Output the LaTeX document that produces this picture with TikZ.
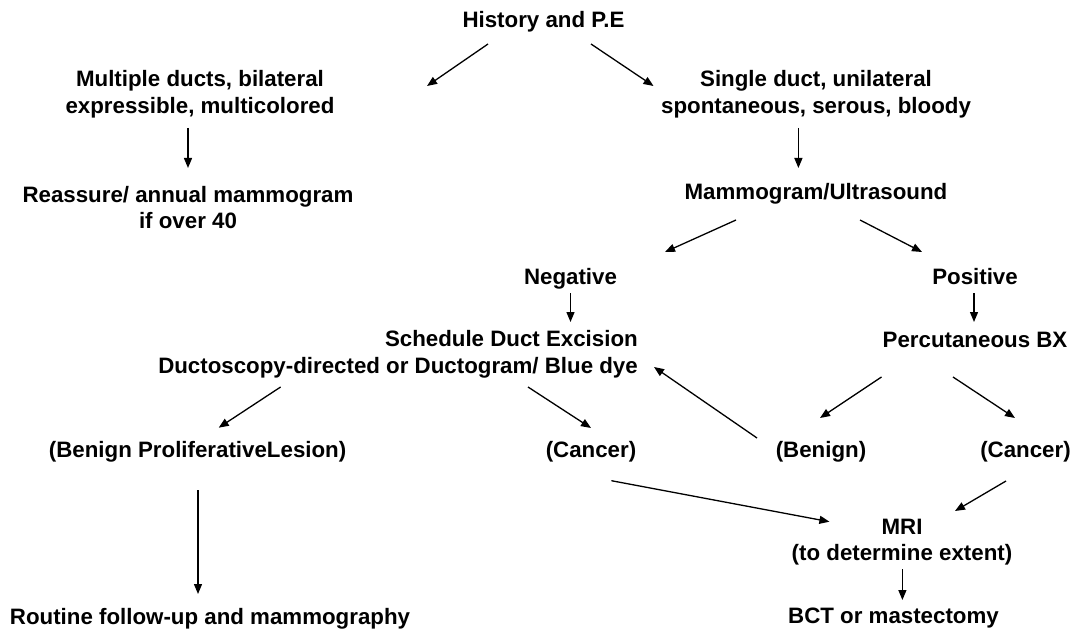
\documentclass[tikz,border=0pt]{standalone}
\usepackage{fontspec}
\setmainfont{Liberation Sans}
\usetikzlibrary{arrows.meta}
\newcommand\twol[2]{\rule{0pt}{16pt}\smash{#1}\\\smash{#2}\rule[-2pt]{0pt}{2pt}}
\tikzset{
  lbl/.style={inner sep=0pt, text height=16pt, text depth=2pt, font=\fontsize{22.3}{26.8}\selectfont\bfseries},
  lbltwo/.style={inner sep=0pt, align=center, font=\fontsize{22.3}{26.8}\selectfont\bfseries},
  arr/.style={line width=1.3pt, -{Triangle[length=10pt,width=8pt]}}
}
\begin{document}
\begin{tikzpicture}[x=1pt,y=-1pt]
\useasboundingbox (0,0) rectangle (1075,631);
\fill[white] (0,0) rectangle (1075,631);
% nodes
\node[lbl] (hist) at (543.5,21) {History and P.E};
\node[lbltwo] (multi) at (200,93.3) {\twol{Multiple ducts, bilateral}{expressible, multicolored}};
\node[lbltwo] (single) at (816,93.3) {\twol{Single duct, unilateral}{spontaneous, serous, bloody}};
\node[lbltwo] (reass) at (188,208.5) {\twol{Reassure/ annual mammogram}{if over 40}};
\node[lbl] (mamm) at (816,193) {Mammogram/Ultrasound};
\node[lbl] (neg) at (570.5,277) {Negative};
\node[lbl] (pos) at (975,277) {Positive};
\node[lbltwo, align=right, anchor=east] (sched) at (638,353.3) {\twol{Schedule Duct Excision}{Ductoscopy-directed or Ductogram/ Blue dye}};
\node[lbl] (percut) at (975,340) {Percutaneous BX};
\node[lbl] (bpl) at (197.6,450) {(Benign ProliferativeLesion)};
\node[lbl] (canc1) at (591,450) {(Cancer)};
\node[lbl] (benign) at (821,450) {(Benign)};
\node[lbl] (canc2) at (1025.5,450) {(Cancer)};
\node[lbltwo] (mri) at (902,540.5) {\twol{MRI}{(to determine extent)}};
\node[lbl] (bct) at (893.5,616) {BCT or mastectomy};
\node[lbl] (routine) at (210,617) {Routine follow-up and mammography};
% connectors
\draw[arr] ([shift={(-55.5,23)}]hist.center) -- ([shift={(227,-7.3)}]multi.center);
\draw[arr] ([shift={(47.5,23)}]hist.center) -- ([shift={(-162.5,-7.3)}]single.center);
\draw[arr] ([shift={(-12,34.7)}]multi.center) -- ([shift={(0,-40.5)}]reass.center);
\draw[arr] ([shift={(-17.6,34.7)}]single.center) -- ([shift={(-17.6,-25)}]mamm.center);
\draw[arr] ([shift={(-80,27)}]mamm.center) -- ([shift={(94.5,-25)}]neg.center);
\draw[arr] ([shift={(44,27)}]mamm.center) -- ([shift={(-53,-25)}]pos.center);
\draw[arr] ([shift={(0,16)}]neg.center) -- ([shift={(-67.5,-31.3)}]sched.east);
\draw[arr] ([shift={(-1,16)}]pos.center) -- ([shift={(-1,-18)}]percut.center);
\draw[arr] ([shift={(-357.4,33.7)}]sched.east) -- ([shift={(21.1,-22.3)}]bpl.center);
\draw[arr] ([shift={(-110,33.7)}]sched.east) -- ([shift={(0,-22)}]canc1.center);
\draw[arr] ([shift={(-64,-12)}]benign.center) -- ([shift={(16,13.7)}]sched.east);
\draw[arr] ([shift={(-93.5,37)}]percut.center) -- ([shift={(-1,-32)}]benign.center);
\draw[arr] ([shift={(-22,37)}]percut.center) -- ([shift={(-10.5,-32)}]canc2.center);
\draw[arr] ([shift={(20.4,30.7)}]canc1.center) -- ([shift={(-72.6,-18.8)}]mri.center);
\draw[arr] ([shift={(-19.5,31)}]canc2.center) -- ([shift={(53,-29.5)}]mri.center);
\draw[arr] ([shift={(0.4,28.5)}]mri.center) -- ([shift={(8.9,-16)}]bct.center);
\draw[arr] ([shift={(0.4,40)}]bpl.center) -- ([shift={(-12,-23)}]routine.center);
\end{tikzpicture}
\end{document}
